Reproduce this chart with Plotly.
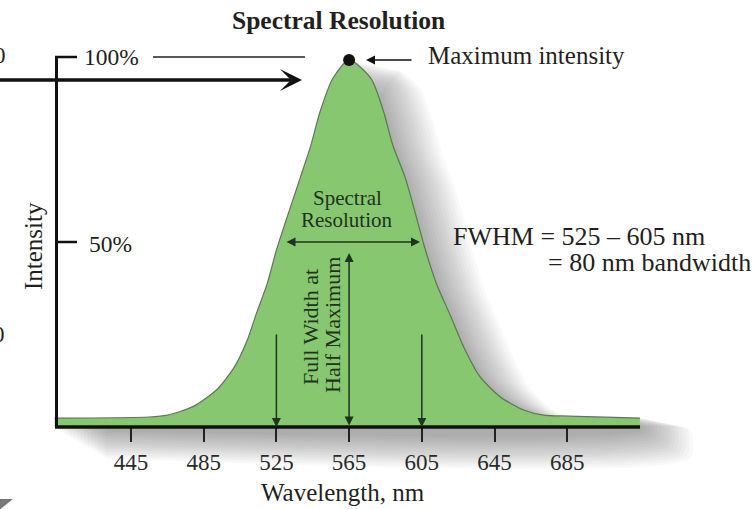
import plotly.graph_objects as go

# ---------------- data ----------------
wavelength_nm = [403, 455, 465, 479, 492, 502, 509, 514, 520, 525, 538, 544, 549, 556, 565,
                 577, 584, 589, 596, 607, 613, 621, 628, 637, 648, 661, 672, 681, 725]
intensity_pct = [2.4, 2.7, 3.2, 5.5, 10.0, 16.3, 23.5, 30.7, 38.8, 47.8, 67.2, 76.2, 85.2, 94.2, 99.2,
                 94.2, 85.2, 76.2, 67.2, 47.8, 38.8, 29.8, 21.7, 13.6, 8.2, 4.6, 3.2, 3.0, 2.4]
tick_values = [445, 485, 525, 565, 605, 645, 685]
tick_labels = ["445", "485", "525", "565", "605", "645", "685"]
fwhm_low, fwhm_high = 525, 605
peak_wl = 565
half_max = 50

# ---------------- pixel -> data helpers (layout only) ----------------
W, H = 754, 509


def X(px):
    return 445 + (px - 131) / 1.8175


def Y(py):
    return (427 - py) / 3.7


FONT = "Liberation Serif"
TXT = "#231f20"
DARK = "#1f3320"

fig = go.Figure()

# soft drop shadow (offset copies of the curve)
n_layers = 15
for k in range(n_layers):
    dx = 1.0 + 1.9 * k
    dy = 0.2 + 0.2 * k
    bottom = 0.8 + 0.55 * k
    xs = [w + dx for w in wavelength_nm] + [wavelength_nm[-1] + dx, wavelength_nm[0] + dx]
    ys = [v - dy for v in intensity_pct] + [-bottom, -bottom]
    fig.add_trace(go.Scatter(x=xs, y=ys, mode="lines", fill="toself",
                             fillcolor="rgba(0,0,0,0.022)", line=dict(width=0, shape="spline", smoothing=0.6),
                             hoverinfo="skip", showlegend=False))

# the spectral band
fig.add_trace(go.Scatter(x=wavelength_nm, y=intensity_pct, mode="lines",
                         line=dict(color="#5b7a50", width=1.2, shape="spline", smoothing=0.7),
                         fill="tozeroy", fillcolor="#87c76f",
                         hoverinfo="skip", showlegend=False))

# peak dot
pk = intensity_pct.index(max(intensity_pct))
fig.add_trace(go.Scatter(x=[wavelength_nm[pk]], y=[intensity_pct[pk]], mode="markers",
                         marker=dict(size=12, color="#111111"),
                         hoverinfo="skip", showlegend=False))

shapes = [
    # x axis line
    dict(type="line", x0=X(55), x1=X(640), y0=0, y1=0, line=dict(color="#111111", width=3.5)),
    # y axis line + ticks
    dict(type="line", x0=X(56.5), x1=X(56.5), y0=0, y1=100, line=dict(color="#111111", width=3)),
    dict(type="line", x0=X(55), x1=X(77), y0=100, y1=100, line=dict(color="#111111", width=2.5)),
    dict(type="line", x0=X(55), x1=X(77), y0=half_max, y1=half_max, line=dict(color="#111111", width=2.5)),
    # thin 100% guide line
    dict(type="line", x0=X(153), x1=X(305), y0=100, y1=100, line=dict(color="#222222", width=1.5)),
    # grey fragment bottom-left
    dict(type="path", path=f"M {X(-2)},{Y(499)} L {X(13)},{Y(499)} L {X(-2)},{Y(511)} Z",
         fillcolor="#777777", line=dict(width=0)),
]

ann = []


def text(s, px, py, size=24, color=TXT, xanchor="center", angle=0):
    ann.append(dict(text=s, x=X(px), y=Y(py), xref="x", yref="y", showarrow=False,
                    xanchor=xanchor, yanchor="middle", textangle=angle,
                    font=dict(family=FONT, size=size, color=color)))


def arrow(x_tip, y_tip, x_tail, y_tail, width=1.5, head=2, size=1.2, color="#111111", side="end"):
    ann.append(dict(text="", x=x_tip, y=y_tip, ax=x_tail, ay=y_tail, xref="x", yref="y",
                    axref="x", ayref="y", showarrow=True, arrowhead=head, startarrowhead=head,
                    arrowsize=size, startarrowsize=size, arrowwidth=width, arrowcolor=color,
                    arrowside=side, standoff=0, startstandoff=0))


text("<b>Spectral Resolution</b>", 338, 20, size=25.5)
text("100%", 82, 57, size=23.5, xanchor="left")
text("50%", 87, 244, size=23.5, xanchor="left")
text("Intensity", 33, 246, size=25, angle=-90)
text("0", 8, 55, size=23, xanchor="right")
text("0", 7, 334, size=23, xanchor="right")
text("Maximum intensity", 426, 55, size=25, xanchor="left")
text("Spectral", 347, 198, size=21, color=DARK)
text("Resolution", 347, 220, size=21, color=DARK)
text("Full Width at", 310, 327, size=22, color=DARK, angle=-90)
text("Half Maximum", 332, 325, size=22, color=DARK, angle=-90)
text("FWHM = 525 \u2013 605 nm", 451, 236, size=26, xanchor="left")
text("= 80 nm bandwidth", 546, 262, size=26, xanchor="left")
text("Wavelength, nm", 343, 492, size=25)

# big incoming arrow on the left
arrow(X(302), Y(80), X(-5), Y(80), width=3.5, head=3, size=1.05)
# maximum intensity pointer
arrow(X(366), Y(60), X(413), Y(60), width=1.5, head=2, size=1.2)
# spectral resolution double arrow at half maximum
arrow(X(420), half_max, X(285), half_max, width=1.5, head=2, size=1.2, color=DARK, side="end+start")
# vertical arrows
arrow(peak_wl, Y(253), peak_wl, 0, width=1.5, head=2, size=1.2, color=DARK, side="end+start")
arrow(fwhm_low, 0, fwhm_low, Y(333), width=1.5, head=2, size=1.2, color=DARK)
arrow(fwhm_high, 0, fwhm_high, Y(333), width=1.5, head=2, size=1.2, color=DARK)

fig.update_layout(
    width=W, height=H,
    margin=dict(l=0, r=0, t=0, b=0, autoexpand=False),
    paper_bgcolor="white", plot_bgcolor="white",
    shapes=shapes, annotations=ann, showlegend=False,
    xaxis=dict(range=[X(0), X(W)], domain=[0, 1], anchor="free", position=(H - 427) / H,
               showline=False, showgrid=False, zeroline=False,
               ticks="outside", ticklen=14, tickwidth=1.5, tickcolor="#222222",
               tickvals=tick_values, ticktext=tick_labels,
               tickfont=dict(family=FONT, size=23, color="#2a2a2a")),
    yaxis=dict(range=[Y(H), Y(0)], domain=[0, 1], visible=False),
)

fig.write_html("out.html", config={"displayModeBar": False},
               post_script="document.body.style.margin='0';document.body.style.overflow='hidden';")
